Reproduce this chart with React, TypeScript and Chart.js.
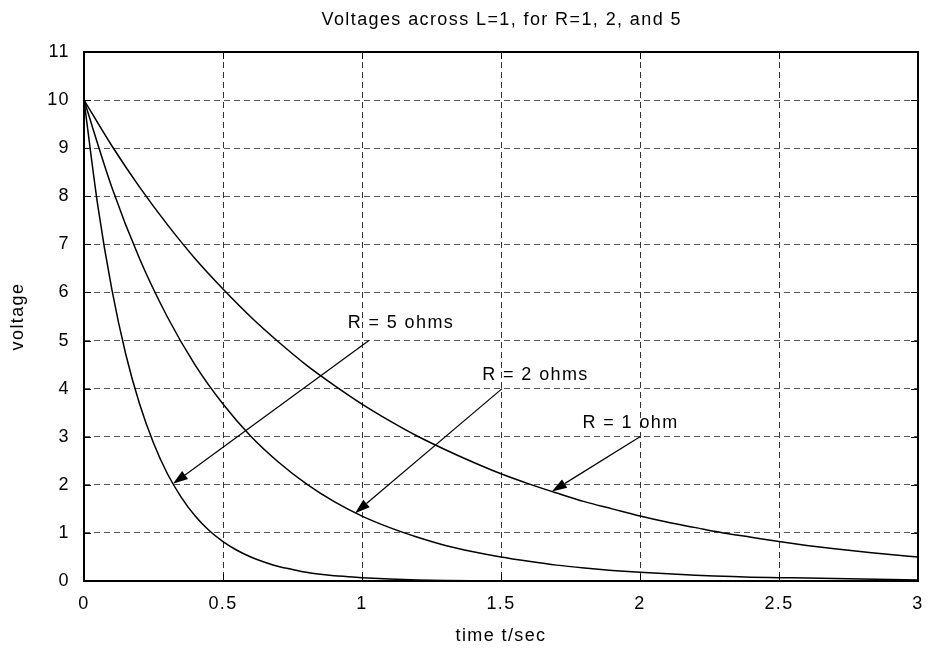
import React, { useEffect, useRef } from 'react';
import { Chart, registerables } from 'chart.js';

Chart.register(...registerables);

const TITLE = 'Voltages across L=1, for R=1, 2, and 5';
const X_LABEL = 'time t/sec';
const Y_LABEL = 'voltage';

// time samples for the slower curves (R = 1, R = 2)
const T_SLOW = [0, 0.1, 0.2, 0.3, 0.4, 0.5, 0.6, 0.7, 0.8, 0.9, 1.0, 1.1, 1.2, 1.3, 1.4, 1.5, 1.6, 1.7, 1.8, 1.9, 2.0, 2.1, 2.2, 2.3, 2.4, 2.5, 2.6, 2.7, 2.8, 2.9, 3.0];
const V_R1 = [10, 9.05, 8.19, 7.41, 6.7, 6.07, 5.49, 4.97, 4.49, 4.07, 3.68, 3.33, 3.01, 2.73, 2.47, 2.23, 2.02, 1.83, 1.65, 1.5, 1.35, 1.22, 1.11, 1.0, 0.91, 0.82, 0.74, 0.67, 0.61, 0.55, 0.5];
const V_R2 = [10, 8.19, 6.7, 5.49, 4.49, 3.68, 3.01, 2.47, 2.02, 1.65, 1.35, 1.11, 0.91, 0.74, 0.61, 0.5, 0.41, 0.33, 0.27, 0.22, 0.18, 0.15, 0.12, 0.1, 0.08, 0.07, 0.06, 0.05, 0.04, 0.03, 0.02];

// time samples for the fast curve (R = 5)
const T_FAST = [0, 0.05, 0.1, 0.15, 0.2, 0.25, 0.3, 0.35, 0.4, 0.45, 0.5, 0.55, 0.6, 0.65, 0.7, 0.75, 0.8, 0.85, 0.9, 0.95, 1.0, 1.1, 1.2, 1.3, 1.5, 2.0, 2.5, 3.0];
const V_R5 = [10, 7.79, 6.07, 4.72, 3.68, 2.87, 2.23, 1.74, 1.35, 1.05, 0.82, 0.64, 0.5, 0.39, 0.3, 0.24, 0.18, 0.14, 0.11, 0.09, 0.07, 0.04, 0.02, 0.01, 0.0, 0.0, 0.0, 0.0];

// annotations (data coordinates)
const NOTE_TEXT = ['R = 5 ohms', 'R = 2 ohms', 'R = 1 ohm'];
const NOTE_X = [1.14, 1.624, 1.966];
const NOTE_Y = [5.36, 4.28, 3.28];
const ARROW_FROM_X = [1.025, 1.504, 2.0];
const ARROW_FROM_Y = [5.0, 4.0, 3.0];
const ARROW_TO_X = [0.32, 0.975, 1.683];
const ARROW_TO_Y = [2.02, 1.41, 1.86];

const FONT_FAMILY = '"Liberation Sans", Arial, Helvetica, sans-serif';
const SPACING = '1.4px';

const toPoints = (xs: number[], ys: number[]) => xs.map((x, i) => ({ x, y: ys[i] }));

const spacingPlugin = {
  id: 'spacing',
  beforeDraw(chart: any) {
    try { (chart.ctx as any).letterSpacing = SPACING; } catch (e) { /* ignore */ }
  },
};

const framePlugin = {
  id: 'frameNotes',
  afterDatasetsDraw(chart: any) {
    const { ctx, chartArea: a, scales } = chart;
    const xs = scales.x;
    const ys = scales.y;
    ctx.save();
    ctx.strokeStyle = '#000';
    ctx.lineWidth = 1;
    ctx.setLineDash([]);
    const tl = 7;
    ctx.beginPath();
    ys.ticks.forEach((t: any) => {
      const py = Math.round(ys.getPixelForValue(t.value)) + 0.5;
      ctx.moveTo(a.left, py); ctx.lineTo(a.left + tl, py);
      ctx.moveTo(a.right, py); ctx.lineTo(a.right - tl, py);
    });
    xs.ticks.forEach((t: any) => {
      const px = Math.round(xs.getPixelForValue(t.value)) + 0.5;
      ctx.moveTo(px, a.bottom); ctx.lineTo(px, a.bottom - tl);
      ctx.moveTo(px, a.top); ctx.lineTo(px, a.top + tl);
    });
    ctx.stroke();

    // frame
    ctx.lineWidth = 2;
    ctx.strokeRect(a.left, a.top, a.right - a.left, a.bottom - a.top);

    ctx.font = '18px ' + FONT_FAMILY;
    ctx.fillStyle = '#000';
    ctx.textAlign = 'center';
    ctx.textBaseline = 'middle';

    // title centred over the plot area
    ctx.fillText(TITLE, (a.left + a.right) / 2 + 0.7, 20);

    // arrows
    for (let i = 0; i < NOTE_TEXT.length; i++) {
      const x0 = xs.getPixelForValue(ARROW_FROM_X[i]);
      const y0 = ys.getPixelForValue(ARROW_FROM_Y[i]);
      const x1 = xs.getPixelForValue(ARROW_TO_X[i]);
      const y1 = ys.getPixelForValue(ARROW_TO_Y[i]);
      const ang = Math.atan2(y1 - y0, x1 - x0);
      const hl = 15;
      const hw = 5;
      const bx = x1 - hl * Math.cos(ang);
      const by = y1 - hl * Math.sin(ang);
      ctx.lineWidth = 1.2;
      ctx.beginPath();
      ctx.moveTo(x0, y0);
      ctx.lineTo(bx, by);
      ctx.stroke();
      ctx.beginPath();
      ctx.moveTo(x1, y1);
      ctx.lineTo(bx + hw * Math.sin(ang), by - hw * Math.cos(ang));
      ctx.lineTo(bx - hw * Math.sin(ang), by + hw * Math.cos(ang));
      ctx.closePath();
      ctx.fill();

      ctx.fillText(NOTE_TEXT[i], xs.getPixelForValue(NOTE_X[i]), ys.getPixelForValue(NOTE_Y[i]));
    }
    ctx.restore();
  },
};

export default function App() {
  const ref = useRef<HTMLCanvasElement | null>(null);

  useEffect(() => {
    document.body.style.margin = '0';
    const canvas = ref.current;
    if (!canvas) return;
    Chart.defaults.font.family = FONT_FAMILY;
    Chart.defaults.color = '#000';
    const lineStyle = {
      borderColor: '#000',
      borderWidth: 1.5,
      pointRadius: 0,
      fill: false,
      cubicInterpolationMode: 'monotone' as const,
    };
    const chart = new Chart(canvas, {
      type: 'line',
      data: {
        datasets: [
          { label: 'R = 1', data: toPoints(T_SLOW, V_R1), ...lineStyle },
          { label: 'R = 2', data: toPoints(T_SLOW, V_R2), ...lineStyle },
          { label: 'R = 5', data: toPoints(T_FAST, V_R5), ...lineStyle },
        ],
      },
      options: {
        responsive: false,
        animation: false,
        devicePixelRatio: 1,
        layout: { padding: { left: 0, right: 11, top: 52, bottom: 0 } },
        plugins: {
          legend: { display: false },
          tooltip: { enabled: false },
          title: { display: false },
        },
        scales: {
          x: {
            type: 'linear',
            min: 0,
            max: 3,
            ticks: {
              stepSize: 0.5,
              color: '#000',
              font: { size: 18 },
              padding: 12,
              callback: (v: any) => String(Number(v)),
            },
            grid: { color: '#333', lineWidth: 1, drawTicks: false },
            border: { display: false, dash: [6, 4] },
            title: { display: true, text: X_LABEL, color: '#000', font: { size: 18 }, padding: { top: 0, bottom: 3 } },
            afterFit: (s: any) => { s.height = 69; s.paddingLeft = 0; s.paddingRight = 0; },
          },
          y: {
            min: 0,
            max: 11,
            ticks: { stepSize: 1, color: '#000', font: { size: 18 }, padding: 14 },
            grid: { color: '#555', lineWidth: 1, drawTicks: false },
            border: { display: false, dash: [6, 4] },
            title: { display: true, text: Y_LABEL, color: '#000', font: { size: 18 }, padding: { top: 7, bottom: 0 } },
            afterFit: (s: any) => { s.width = 84; s.paddingTop = 0; s.paddingBottom = 0; },
          },
        },
      },
      plugins: [spacingPlugin, framePlugin],
    } as any);
    return () => chart.destroy();
  }, []);

  return (
    <div style={{ width: 929, height: 650 }}>
      <canvas ref={ref} width={929} height={650} style={{ display: 'block' }} />
    </div>
  );
}
